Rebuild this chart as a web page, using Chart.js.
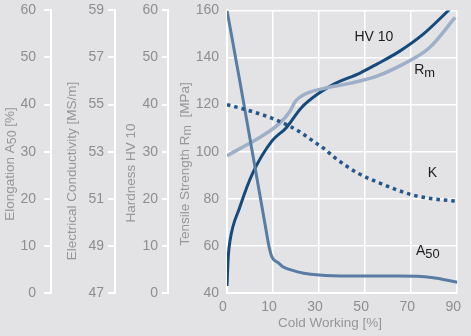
<!DOCTYPE html>
<html>
<head>
<meta charset="utf-8">
<script src="https://cdn.jsdelivr.net/npm/chart.js@4.4.1/dist/chart.umd.min.js"></script>
<style>
  html, body { margin: 0; padding: 0; background: #e3e3e5; overflow: hidden; }
  /* canvas is a bit taller and moved up so the plot top sits where the original has it */
  #wrap { width: 471px; height: 342px; margin-top: -6px; }
</style>
</head>
<body>
<div id="wrap"><canvas id="chart"></canvas></div>
<script>
// cold working axis: evenly spaced ticks, labelled 0,10,30,50,70,90
// x values below are positions along that axis (0..90, one tick every 18)
const xTickLabels = [0, 10, 30, 50, 70, 90];

// Hardness HV 10
const hvX = [0, 0.5, 1.2, 5, 10, 17.6, 23, 29, 35.6, 42, 52, 58.6, 67.4, 76.6, 87];
const hvY = [1.5, 7.7, 11.2, 18.2, 25.4, 32.3, 35, 39.3, 42.3, 44.4, 46.7, 48.6, 51.3, 54.9, 60.2];

// Tensile strength Rm [MPa]
const rmX = [0, 5, 12.6, 20.3, 24.5, 26.8, 30.6, 38.3, 48.3, 58.6, 68.9, 78.9, 89.2];
const rmY = [98.3, 101.3, 105.9, 111.8, 117, 121.5, 124.5, 127, 129.1, 132.1, 137.2, 143.9, 157];

// Electrical conductivity K [MS/m]
const kX = [0, 10, 20.3, 29.1, 33, 38.3, 42.1, 51, 61.3, 71.3, 80.4, 90];
const kY = [55.0, 54.7, 54.3, 53.8, 53.5, 53.1, 52.75, 52.1, 51.6, 51.2, 51.0, 50.9];

// Elongation A50 [%]
const a50X = [0, 5, 10, 15, 16.5, 17.6, 20.3, 22, 25, 30, 36, 48, 67, 80, 90];
const a50Y = [60, 45, 29.6, 14.2, 9.7, 7.6, 6.3, 5.5, 4.9, 4.2, 3.8, 3.6, 3.6, 3.3, 2.3];

const pts = (xs, ys) => xs.map((x, i) => ({x: x, y: ys[i]}));

const tickFont = {family: "'Liberation Sans', Arial, sans-serif", size: 14};
const tickColor = '#8e8e8e';
const titleColor = '#969696';
const FONT = "'Liberation Sans', Arial, sans-serif";
const SHIFT = 6; // same as the css margin-top

// text with subscripts, parts = [text, isSub]
function drawRich(ctx, parts, size, center) {
  let w = 0;
  parts.forEach(p => {
    ctx.font = (p[1] ? size * 0.92 : size) + 'px ' + FONT;
    w += ctx.measureText(p[0]).width;
  });
  let x = center ? -w / 2 : 0;
  parts.forEach(p => {
    ctx.font = (p[1] ? size * 0.92 : size) + 'px ' + FONT;
    ctx.fillText(p[0], x, p[1] ? 3 : 0);
    x += ctx.measureText(p[0]).width;
  });
}

const axisTitles = [
  {parts: [['Elongation A', 0], ['50', 1], [' [%]', 0]], x: 10, y: 164},
  {parts: [['Electrical Conductivity [MS/m]', 0]], x: 72, y: 171},
  {parts: [['Hardness HV 10', 0]], x: 131, y: 173},
  {parts: [['Tensile Strength R', 0], ['m', 1], ['  [MPa]', 0]], x: 185, y: 164}
];

// curve labels, placed in data units
const curveLabels = [
  {parts: [['HV 10', 0]], x: 49.8, y: 148.6},
  {parts: [['R', 0], ['m', 1]], x: 73.2, y: 134.6},
  {parts: [['K', 0]], x: 78.5, y: 90.7},
  {parts: [['A', 0], ['50', 1]], x: 73.9, y: 57.7}
];

const textPlugin = {
  id: 'texts',
  beforeDraw(chart) {
    const ctx = chart.ctx;
    ctx.save();
    ctx.fillStyle = '#e3e3e5';
    ctx.fillRect(0, 0, chart.width, chart.height);
    ctx.restore();
  },
  afterDraw(chart) {
    const ctx = chart.ctx;
    ctx.save();
    ctx.textBaseline = 'middle';
    ctx.fillStyle = titleColor;
    axisTitles.forEach(t => {
      ctx.save();
      ctx.translate(t.x, t.y + SHIFT);
      ctx.rotate(-Math.PI / 2);
      drawRich(ctx, t.parts, 13.5, true);
      ctx.restore();
    });
    ctx.textAlign = 'left';
    ctx.save();
    ctx.translate(330, 323 + SHIFT);
    drawRich(ctx, [['Cold Working [%]', 0]], 13.5, true);
    ctx.restore();
    ctx.fillStyle = '#1c1c1c';
    const sx = chart.scales.x, sy = chart.scales.y;
    curveLabels.forEach(l => {
      ctx.save();
      ctx.translate(sx.getPixelForValue(l.x), sy.getPixelForValue(l.y));
      drawRich(ctx, l.parts, 14, false);
      ctx.restore();
    });
    ctx.restore();
  }
};

function sideAxis(min, max, step, weight, width, tickLen, pad) {
  return {
    position: 'left',
    weight: weight,
    min: min, max: max,
    afterFit: s => { s.width = width; },
    ticks: {stepSize: step, color: tickColor, font: tickFont, padding: pad},
    grid: {drawOnChartArea: false, color: '#ffffff', lineWidth: 2, tickLength: tickLen},
    border: {color: '#ffffff', width: 2},
    title: {display: false}
  };
}

new Chart(document.getElementById('chart'), {
  type: 'line',
  data: {
    datasets: [
      {label: 'K', data: pts(kX, kY), yAxisID: 'yK', borderColor: '#24568a',
       borderWidth: 3.5, borderDash: [3.5, 4], borderCapStyle: 'butt'},
      {label: 'A50', data: pts(a50X, a50Y), yAxisID: 'yA', borderColor: '#587ca4', borderWidth: 3},
      {label: 'Rm', data: pts(rmX, rmY), yAxisID: 'y', borderColor: '#9eb0c8', borderWidth: 3.5},
      {label: 'HV 10', data: pts(hvX, hvY), yAxisID: 'yHV', borderColor: '#154a7b', borderWidth: 3}
    ]
  },
  options: {
    responsive: true,
    maintainAspectRatio: false,
    animation: false,
    layout: {padding: {top: 1, right: 9, left: 0, bottom: 0}},
    elements: {
      point: {radius: 0},
      line: {cubicInterpolationMode: 'monotone', fill: false}
    },
    plugins: {legend: {display: false}, tooltip: {enabled: false}},
    scales: {
      x: {
        type: 'linear',
        min: 0, max: 90,
        afterFit: s => { s.height = 43; },
        ticks: {
          stepSize: 18, color: tickColor, font: tickFont, padding: 6, labelOffset: -4,
          callback: (v, i) => xTickLabels[i]
        },
        grid: {color: '#ffffff', lineWidth: 1.5, drawTicks: false},
        border: {color: '#ffffff', width: 2},
        title: {display: false}
      },
      yA: sideAxis(0, 60, 10, 4, 51, 7, 8),
      yK: sideAxis(47, 59, 2, 3, 64, 7, 4),
      yHV: sideAxis(0, 60, 10, 2, 53, 6, 4),
      y: {
        position: 'left',
        weight: 1,
        min: 40, max: 160,
        afterFit: s => { s.width = 59; },
        ticks: {stepSize: 20, color: tickColor, font: tickFont, padding: 8},
        grid: {color: '#ffffff', lineWidth: 1.5, drawTicks: false},
        border: {color: '#ffffff', width: 2},
        title: {display: false}
      }
    }
  },
  plugins: [textPlugin]
});
</script>
</body>
</html>
